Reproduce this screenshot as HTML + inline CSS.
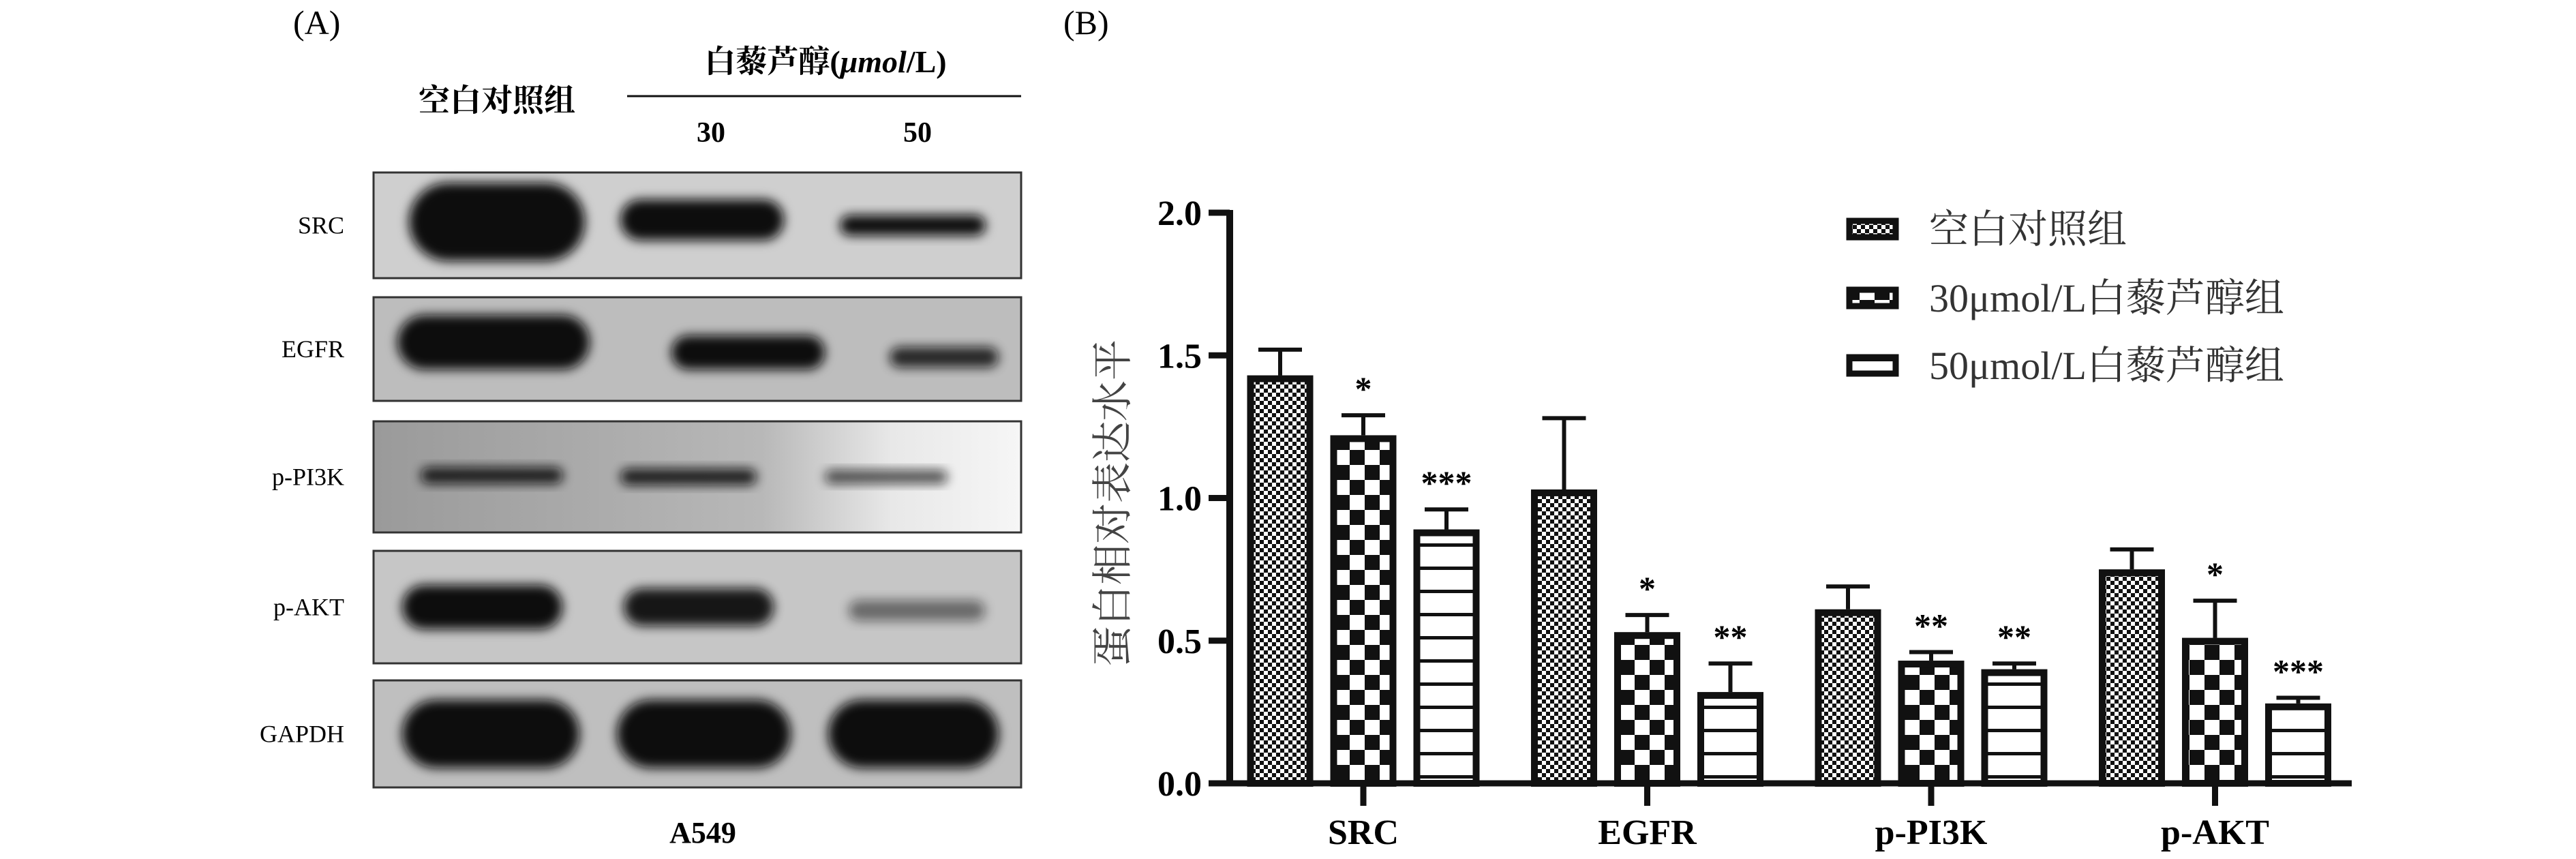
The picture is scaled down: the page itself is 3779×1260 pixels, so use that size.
<!DOCTYPE html>
<html><head><meta charset="utf-8">
<style>
html,body{margin:0;padding:0;background:#fff;}
svg{display:block;}
.serif{font-family:"Liberation Serif","Noto Serif CJK SC",serif;}
</style></head>
<body>
<svg id="fig" width="3779" height="1260" viewBox="0 0 3779 1260" xmlns="http://www.w3.org/2000/svg">
<defs>
  <filter id="blur8" x="-20%" y="-50%" width="140%" height="200%"><feGaussianBlur stdDeviation="8"/></filter>
  <filter id="blur20" x="-20%" y="-50%" width="140%" height="200%"><feGaussianBlur stdDeviation="20"/></filter>
  <pattern id="patFine" width="12" height="12" patternUnits="userSpaceOnUse">
    <rect width="12" height="12" fill="#fff"/><rect width="6" height="6" fill="#111"/><rect x="6" y="6" width="6" height="6" fill="#111"/>
  </pattern>
  <pattern id="patCoarse" width="44" height="44" patternUnits="userSpaceOnUse">
    <rect width="44" height="44" fill="#fff"/><rect width="22" height="22" fill="#111"/><rect x="22" y="22" width="22" height="22" fill="#111"/>
  </pattern>
  <pattern id="patStripe" width="20" height="34" patternUnits="userSpaceOnUse">
    <rect width="20" height="34" fill="#fff"/><rect y="15" width="20" height="5" fill="#111"/>
  </pattern>
  <linearGradient id="pi3kBg" x1="0" x2="1" y1="0" y2="0">
    <stop offset="0" stop-color="#9a9a9a"/><stop offset="0.6" stop-color="#b8b8b8"/><stop offset="0.8" stop-color="#e8e8e8"/><stop offset="1" stop-color="#f6f6f6"/>
  </linearGradient>
</defs>

<!-- Panel A -->
<g id="panelA">
  <text x="430" y="50" font-size="50" class="serif">(A)</text>
  <text x="1211" y="106" font-size="46" font-weight="bold" text-anchor="middle" class="serif">白藜芦醇(<tspan font-style="italic">μmol</tspan>/L)</text>
  <line x1="920" y1="141" x2="1498" y2="141" stroke="#111" stroke-width="3"/>
  <text x="729" y="163" font-size="46" font-weight="bold" text-anchor="middle" class="serif">空白对照组</text>
  <text x="1043" y="208" font-size="42" font-weight="bold" text-anchor="middle" class="serif">30</text>
  <text x="1346" y="208" font-size="42" font-weight="bold" text-anchor="middle" class="serif">50</text>
  <text x="1031" y="1236" font-size="44" font-weight="bold" text-anchor="middle" class="serif">A549</text>
  <g id="blots"></g>
</g>

<!-- Panel B -->
<g id="panelB">
  <text x="1560" y="50" font-size="50" class="serif">(B)</text>
  <g id="chart"></g>
</g>
</svg>

<script>
// ---------- Chart data ----------
var categories = ["SRC", "EGFR", "p-PI3K", "p-AKT"];
var seriesNames = ["空白对照组", "30μmol/L白藜芦醇组", "50μmol/L白藜芦醇组"];
var controlValues = [1.43, 1.03, 0.61, 0.75];
var dose30Values = [1.22, 0.53, 0.43, 0.51];
var dose50Values = [0.89, 0.32, 0.40, 0.28];
var controlErr = [0.09, 0.25, 0.08, 0.07];
var dose30Err = [0.07, 0.06, 0.03, 0.13];
var dose50Err = [0.07, 0.10, 0.02, 0.02];
var dose30Stars = ["*", "*", "**", "*"];
var dose50Stars = ["***", "**", "**", "***"];
var yTicks = [0.0, 0.5, 1.0, 1.5, 2.0];
var yTickLabels = ["0.0", "0.5", "1.0", "1.5", "2.0"];

var NS = "http://www.w3.org/2000/svg";
function mk(tag, attrs, parent) {
  var e = document.createElementNS(NS, tag);
  for (var k in attrs) e.setAttribute(k, attrs[k]);
  parent.appendChild(e);
  return e;
}

// axis functions
var Y0 = 1149, YPX = 418.5, AXX = 1804;
function yScale(v) { return Y0 - v * YPX; }
function groupCenter(i) { return 2000 + i * 416.5; }
var BW = 97, PITCH = 122;
function barX(i, s) { return groupCenter(i) + (s - 1) * PITCH - BW / 2; }

var chart = document.getElementById('chart');
var series = [controlValues, dose30Values, dose50Values];
var errs = [controlErr, dose30Err, dose50Err];
var stars = [null, dose30Stars, dose50Stars];
var fills = ["url(#patFine)", "url(#patCoarse)", "url(#patStripe)"];
var sKeys = ["control", "dose30", "dose50"];

// bars
for (var s = 0; s < 3; s++) {
  for (var i = 0; i < categories.length; i++) {
    var v = series[s][i], x = barX(i, s), yt = yScale(v);
    var cx = x + BW / 2, ye = yScale(v + errs[s][i]);
    var err = mk('path', {d: 'M' + cx + ' ' + yt + 'V' + ye + 'M' + (cx - 32) + ' ' + ye + 'H' + (cx + 32), stroke: '#111', 'stroke-width': 6, fill: 'none'}, chart);
    
    
    var r = mk('rect', {x: x + 5, y: yt + 5, width: BW - 10, height: Y0 - yt - 5, fill: fills[s], stroke: '#111', 'stroke-width': 10}, chart);
    
    
    if (stars[s]) {
      var t = mk('text', {x: cx, y: ye - 22, 'font-size': 50, 'font-weight': 'bold', 'text-anchor': 'middle', 'class': 'serif'}, chart);
      t.textContent = stars[s][i];
      
      
    }
  }
}

// axes
var yAxis = mk('line', {x1: AXX, y1: yScale(2.0) - 4, x2: AXX, y2: Y0 + 4, stroke: '#111', 'stroke-width': 10}, chart);


var xAxis = mk('line', {x1: 1773, y1: Y0, x2: 3450, y2: Y0, stroke: '#111', 'stroke-width': 9}, chart);


for (var k = 0; k < yTicks.length; k++) {
  var yy = yScale(yTicks[k]);
  var tk = mk('line', {x1: 1773, y1: yy, x2: AXX, y2: yy, stroke: '#111', 'stroke-width': 9}, chart);
  
  
  var tl = mk('text', {x: 1763, y: yy + 18, 'font-size': 52, 'font-weight': 'bold', 'text-anchor': 'end', 'class': 'serif'}, chart);
  tl.textContent = yTickLabels[k];
  
  
}
for (var i = 0; i < categories.length; i++) {
  var gx = groupCenter(i);
  var xt = mk('line', {x1: gx, y1: Y0, x2: gx, y2: 1182, stroke: '#111', 'stroke-width': 9}, chart);
  
  
  var xl = mk('text', {x: gx, y: 1238, 'font-size': 52, 'font-weight': 'bold', 'text-anchor': 'middle', 'class': 'serif'}, chart);
  xl.textContent = categories[i];
  
  
}
var yt2 = mk('text', {x: 0, y: 0, 'font-size': 60, fill: '#444', 'text-anchor': 'middle', 'class': 'serif', transform: 'translate(1653,738) rotate(-90)'}, chart);
yt2.textContent = '蛋白相对表达水平';



// legend
var legY = [336, 437, 536];
for (var s = 0; s < 3; s++) {
  var lg = mk('g', {}, chart);
  
  
  mk('rect', {x: 2713, y: legY[s] - 12, width: 68, height: 24, fill: fills[s], stroke: '#111', 'stroke-width': 9}, lg);
  var lt = mk('text', {x: 2830, y: legY[s] + 20, 'font-size': 58, fill: '#333', 'class': 'serif'}, lg);
  lt.textContent = seriesNames[s];
}

// ---------- Western blots (decorative) ----------
var blotNames = ["SRC", "EGFR", "p-PI3K", "p-AKT", "GAPDH"];
var blotTop = [253, 436, 618, 808, 998];
var blotBottom = [408, 588, 781, 973, 1155];
var blotsG = document.getElementById('blots');
var bgFill = ["#cfcfcf", "#bdbdbd", "url(#pi3kBg)", "#c6c6c6", "#bfbfbf"];
// bands: [x1,x2,yOffsetFromCenter,height,opacity]
var bands = [
  [[600,858,-5,115,1],[910,1150,-8,60,1],[1232,1446,0,30,1]],
  [[583,865,-10,80,1],[985,1210,5,50,1],[1305,1465,12,30,0.85]],
  [[617,826,-2,24,0.9],[910,1110,0,24,0.9],[1210,1390,0,20,0.7]],
  [[590,825,0,65,1],[915,1135,0,55,0.95],[1245,1445,5,30,0.5]],
  [[590,850,0,100,1],[905,1160,0,100,1],[1215,1465,0,100,1]]
];
for (var b = 0; b < 5; b++) {
  var g = mk('g', {}, blotsG);
  
  
  mk('rect', {x: 548, y: blotTop[b], width: 950, height: blotBottom[b] - blotTop[b], fill: bgFill[b], stroke: '#333', 'stroke-width': 3}, g);
  var cy = (blotTop[b] + blotBottom[b]) / 2;
  for (var j = 0; j < 3; j++) {
    var bd = bands[b][j];
    mk('rect', {x: bd[0], y: cy + bd[2] - bd[3] / 2, width: bd[1] - bd[0], height: bd[3], rx: bd[3] / 2, fill: '#0a0a0a', opacity: bd[4], filter: 'url(#blur8)'}, g);
  }
  var lab = mk('text', {x: 505, y: cy + 12, 'font-size': 36, 'text-anchor': 'end', 'class': 'serif'}, blotsG);
  lab.textContent = blotNames[b];
  
  
}
</script>
</body></html>
